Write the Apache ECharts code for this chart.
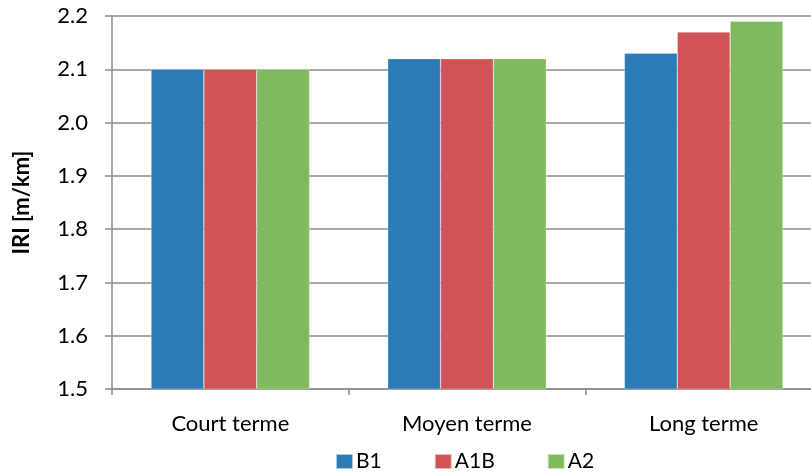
<!DOCTYPE html>
<html><head><meta charset="utf-8">
<script src="https://cdn.jsdelivr.net/npm/echarts@6/dist/echarts.min.js"></script>
<style>html,body{margin:0;padding:0;background:#fff}#c{width:811px;height:472px}</style>
</head><body><div id="c"></div>
<script>
var categories = ['Court terme', 'Moyen terme', 'Long terme'];
var seriesNames = ['B1', 'A1B', 'A2'];
var b1 = [2.10, 2.12, 2.13];
var a1b = [2.10, 2.12, 2.17];
var a2 = [2.10, 2.12, 2.19];
var colors = ['#2C7BB6', '#D05455', '#7FBA5E'];
var FONT = 'Lato';
var chart = echarts.init(document.getElementById('c'));
var data = [b1, a1b, a2];
chart.setOption({
  animation: false,
  textStyle: {fontFamily: FONT},
  grid: {left: 112, top: 16, width: 710, bottom: 83, containLabel: false, outerBoundsMode: 'none'},
  legend: {
    bottom: -5, left: 330, itemWidth: 17, itemHeight: 15, itemGap: 52,
    icon: 'rect',
    textStyle: {fontSize: 21, color: '#000', fontFamily: FONT, padding: [0, 0, 0, -2]},
    data: seriesNames
  },
  xAxis: {
    type: 'category', data: categories,
    axisLine: {lineStyle: {color: '#8C8C8C', width: 1.5}},
    axisTick: {show: true, length: 6, lineStyle: {color: '#8C8C8C', width: 1.5}},
    axisLabel: {fontSize: 22, color: '#000', margin: 24, fontFamily: FONT}
  },
  yAxis: {
    type: 'value', min: 1.5, max: 2.2, interval: 0.1,
    name: 'IRI [m/km]', nameLocation: 'middle', nameGap: 79, nameRotate: 90,
    nameTextStyle: {fontSize: 22, fontWeight: 'bold', color: '#000', fontFamily: FONT},
    axisLine: {show: true, lineStyle: {color: '#8C8C8C', width: 1.5}},
    axisTick: {show: true, inside: false, length: 7, lineStyle: {color: '#8C8C8C', width: 1.5}},
    axisLabel: {fontSize: 22, color: '#000', margin: 24, fontFamily: FONT,
      formatter: function (v) { return v.toFixed(1); }},
    splitLine: {show: true, lineStyle: {color: '#8C8C8C', width: 1.5}}
  },
  series: seriesNames.map(function (n, i) {
    return {
      name: n, type: 'bar', data: data[i],
      barGap: '0%', barCategoryGap: '33%',
      itemStyle: {color: colors[i], borderColor: 'rgba(255,255,255,0.6)', borderWidth: 0.5}
    };
  })
});
</script></body></html>
